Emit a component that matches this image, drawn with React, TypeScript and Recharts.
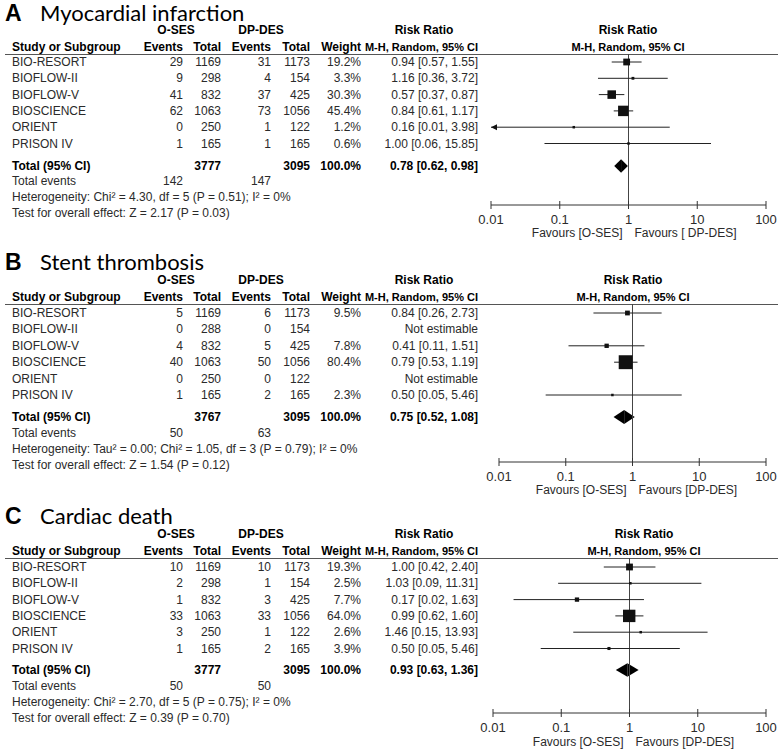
import React from 'react'
import {
  ScatterChart, Scatter, XAxis, YAxis, ReferenceLine, ReferenceArea, ReferenceDot,
} from 'recharts'

// Shared study names (same order in all three panels)
const studies = ['BIO-RESORT', 'BIOFLOW-II', 'BIOFLOW-V', 'BIOSCIENCE', 'ORIENT', 'PRISON IV']
const axisTicks = [0.01, 0.1, 1, 10, 100]

// A — myocardial infarction
const miSesEvents = [29, 9, 41, 62, 0, 1]
const miSesTotal = [1169, 298, 832, 1063, 250, 165]
const miDpEvents = [31, 4, 37, 73, 1, 1]
const miDpTotal = [1173, 154, 425, 1056, 122, 165]
const miWeight = [19.2, 3.3, 30.3, 45.4, 1.2, 0.6]
const miRR = [0.94, 1.16, 0.57, 0.84, 0.16, 1.0]
const miLo = [0.57, 0.36, 0.37, 0.61, 0.01, 0.06]
const miHi = [1.55, 3.72, 0.87, 1.17, 3.98, 15.85]
const miPooled = [0.78, 0.62, 0.98]
const miTotals = [3777, 3095]
const miTotalEvents = [142, 147]

// B — stent thrombosis (null = not estimable)
const stSesEvents = [5, 0, 4, 40, 0, 1]
const stSesTotal = [1169, 288, 832, 1063, 250, 165]
const stDpEvents = [6, 0, 5, 50, 0, 2]
const stDpTotal = [1173, 154, 425, 1056, 122, 165]
const stWeight = [9.5, null, 7.8, 80.4, null, 2.3]
const stRR = [0.84, null, 0.41, 0.79, null, 0.5]
const stLo = [0.26, null, 0.11, 0.53, null, 0.05]
const stHi = [2.73, null, 1.51, 1.19, null, 5.46]
const stPooled = [0.75, 0.52, 1.08]
const stTotals = [3767, 3095]
const stTotalEvents = [50, 63]

// C — cardiac death
const cdSesEvents = [10, 2, 1, 33, 3, 1]
const cdSesTotal = [1169, 298, 832, 1063, 250, 165]
const cdDpEvents = [10, 1, 3, 33, 1, 2]
const cdDpTotal = [1173, 154, 425, 1056, 122, 165]
const cdWeight = [19.3, 2.5, 7.7, 64.0, 2.6, 3.9]
const cdRR = [1.0, 1.03, 0.17, 0.99, 1.46, 0.5]
const cdLo = [0.42, 0.09, 0.02, 0.62, 0.15, 0.05]
const cdHi = [2.4, 11.31, 1.63, 1.6, 13.93, 5.46]
const cdPooled = [0.93, 0.63, 1.36]
const cdTotals = [3777, 3095]
const cdTotalEvents = [50, 50]

const FONT = 'Arial, "Liberation Sans", Helvetica, sans-serif'
const INK = '#2a2a2a'

function T({ x, y, a = 'left', b = false, size = 12, color = INK, font = FONT, lh, children }: {
  x: number; y: number; a?: 'left' | 'right' | 'center'; b?: boolean; size?: number
  color?: string; font?: string; lh?: number; children: React.ReactNode
}) {
  const w = 420
  const left = a === 'left' ? x : a === 'right' ? x - w : x - w / 2
  const h = lh ?? 14
  return (
    <div style={{
      position: 'absolute', left, top: y - h / 2, width: w, height: h, lineHeight: `${h}px`,
      fontSize: size, fontWeight: b ? 700 : 400, textAlign: a, color, whiteSpace: 'nowrap', fontFamily: font,
    }}>{children}</div>
  )
}

const fmtCI = (rr: number, lo: number, hi: number) => `${rr.toFixed(2)} [${lo.toFixed(2)}, ${hi.toFixed(2)}]`

// column right edges
const C = { study: 12, sesEv: 183, sesTot: 221, dpEv: 271, dpTot: 310, weight: 361, ci: 478 }

interface Layout {
  title: number; hdr1: number; hdr2: number; line: number; row0: number; step: number
  total: number; foot: number[]; axis: number; plotL: number; plotR: number; fav: number; rrHead: number
}

function Forest({ rr, lo, hi, weight, pooled, L }: {
  rr: (number | null)[]; lo: (number | null)[]; hi: (number | null)[]; weight: (number | null)[]
  pooled: number[]; L: Layout
}) {
  const padL = 18
  const padR = 778 - L.plotR
  const width = L.plotR - L.plotL + padL + padR
  const plotH = L.axis - L.line
  const d0 = -(L.row0 - L.line) / L.step
  const d1 = d0 + plotH / L.step
  const totalIdx = (L.total - L.row0) / L.step
  const pts = rr.map((v, i) => ({ x: v, y: i, w: weight[i] })).filter(p => p.x != null)
  const halfH = 0.42

  const square = (p: any) => {
    const s = Math.max(2.5, 1.55 * Math.sqrt(p.payload.w))
    return <rect x={p.cx - s / 2} y={p.cy - s / 2} width={s} height={s} fill="#111" />
  }
  const leftHalf = (p: any) => (
    <polygon points={`${p.x},${p.y + p.height / 2} ${p.x + p.width},${p.y} ${p.x + p.width},${p.y + p.height}`} fill="#000" />
  )
  const rightHalf = (p: any) => (
    <polygon points={`${p.x},${p.y} ${p.x + p.width},${p.y + p.height / 2} ${p.x},${p.y + p.height}`} fill="#000" />
  )
  const arrow = (p: any) => (
    <polygon points={`${p.cx},${p.cy} ${p.cx + 6},${p.cy - 3} ${p.cx + 6},${p.cy + 3}`} fill="#111" />
  )
  const tick = (p: any) => (
    <g>
      <line x1={p.x} x2={p.x} y1={p.y - 4} y2={p.y + 4} stroke="#333" />
      <text x={p.x} y={p.y + 19} textAnchor="middle" fontSize={13} fontFamily={FONT} fill={INK}>
        {p.payload.value}
      </text>
    </g>
  )

  return (
    <div style={{ position: 'absolute', left: L.plotL - padL, top: L.line }}>
      <ScatterChart width={width} height={plotH + 30} margin={{ top: 0, right: padR, bottom: 0, left: padL }}
        style={{ overflow: 'visible' }}>
        <XAxis
          dataKey="x" type="number" scale="log" domain={[0.01, 100]} allowDataOverflow
          ticks={axisTicks} tick={tick} tickLine={false} tickSize={0} tickMargin={0}
          axisLine={{ stroke: '#333' }} height={30} interval={0}
        />
        <YAxis dataKey="y" type="number" domain={[d0, d1]} allowDataOverflow reversed hide />
        <ReferenceLine x={1} stroke="#444" strokeWidth={1} />
        {rr.map((v, i) => v == null ? null : (
          <ReferenceLine
            key={`ci${i}`}
            segment={[{ x: lo[i] as number, y: i }, { x: hi[i] as number, y: i }]}
            stroke="#222" strokeWidth={1} ifOverflow="visible"
          />
        ))}
        {rr.map((v, i) => v != null && (lo[i] as number) <= 0.01 ? (
          <ReferenceDot key={`ar${i}`} x={0.01} y={i} r={0} shape={arrow} ifOverflow="visible" />
        ) : null)}
        <ReferenceArea x1={pooled[1]} x2={pooled[0]} y1={totalIdx - halfH} y2={totalIdx + halfH} shape={leftHalf} ifOverflow="visible" />
        <ReferenceArea x1={pooled[0]} x2={pooled[2]} y1={totalIdx - halfH} y2={totalIdx + halfH} shape={rightHalf} ifOverflow="visible" />
        <Scatter data={pts} shape={square} isAnimationActive={false} />
      </ScatterChart>
    </div>
  )
}

function Panel({ letter, title, L, sesEv, sesTot, dpEv, dpTot, weight, rr, lo, hi, pooled, totals, totalEvents, het, test, favR }: {
  letter: string; title: string; L: Layout
  sesEv: number[]; sesTot: number[]; dpEv: number[]; dpTot: number[]
  weight: (number | null)[]; rr: (number | null)[]; lo: (number | null)[]; hi: (number | null)[]
  pooled: number[]; totals: number[]; totalEvents: number[]; het: string; test: string; favR: string
}) {
  const one = L.plotL + (L.plotR - L.plotL) / 2
  return (
    <>
      <T x={5} y={L.title} b size={23} lh={18} color="#000">{letter}</T>
      <T x={40} y={L.title} size={22} lh={18} color="#000" font="Lato, 'Open Sans', sans-serif">{title}</T>

      <T x={176} y={L.hdr1} a="center" b color="#000">O-SES</T>
      <T x={261} y={L.hdr1} a="center" b color="#000">DP-DES</T>
      <T x={424} y={L.hdr1} a="center" b color="#000">Risk Ratio</T>
      <T x={L.rrHead} y={L.hdr1} a="center" b color="#000">Risk Ratio</T>

      <T x={C.study} y={L.hdr2} b color="#000">Study or Subgroup</T>
      <T x={C.sesEv} y={L.hdr2} a="right" b color="#000">Events</T>
      <T x={C.sesTot} y={L.hdr2} a="right" b color="#000">Total</T>
      <T x={C.dpEv} y={L.hdr2} a="right" b color="#000">Events</T>
      <T x={C.dpTot} y={L.hdr2} a="right" b color="#000">Total</T>
      <T x={C.weight} y={L.hdr2} a="right" b color="#000">Weight</T>
      <T x={C.ci} y={L.hdr2} a="right" b size={11} color="#000">M-H, Random, 95% CI</T>
      <T x={L.rrHead} y={L.hdr2} a="center" b size={11} color="#000">M-H, Random, 95% CI</T>
      <div style={{ position: 'absolute', left: 5, top: L.line, width: 773, height: 1, background: '#555' }} />

      {studies.map((s, i) => {
        const y = L.row0 + i * L.step
        const r = rr[i]
        return (
          <React.Fragment key={s}>
            <T x={C.study} y={y}>{s}</T>
            <T x={C.sesEv} y={y} a="right">{sesEv[i]}</T>
            <T x={C.sesTot} y={y} a="right">{sesTot[i]}</T>
            <T x={C.dpEv} y={y} a="right">{dpEv[i]}</T>
            <T x={C.dpTot} y={y} a="right">{dpTot[i]}</T>
            <T x={C.weight} y={y} a="right">{weight[i] == null ? '' : `${(weight[i] as number).toFixed(1)}%`}</T>
            <T x={C.ci} y={y} a="right">{r == null ? 'Not estimable' : fmtCI(r, lo[i] as number, hi[i] as number)}</T>
          </React.Fragment>
        )
      })}

      <T x={C.study} y={L.total} b color="#000">Total (95% CI)</T>
      <T x={C.sesTot} y={L.total} a="right" b color="#000">{totals[0]}</T>
      <T x={C.dpTot} y={L.total} a="right" b color="#000">{totals[1]}</T>
      <T x={C.weight} y={L.total} a="right" b color="#000">100.0%</T>
      <T x={C.ci} y={L.total} a="right" b color="#000">{fmtCI(pooled[0], pooled[1], pooled[2])}</T>

      <T x={C.study} y={L.foot[0]}>Total events</T>
      <T x={C.sesEv} y={L.foot[0]} a="right">{totalEvents[0]}</T>
      <T x={C.dpEv} y={L.foot[0]} a="right">{totalEvents[1]}</T>
      <T x={C.study} y={L.foot[1]}>{het}</T>
      <T x={C.study} y={L.foot[2]}>{test}</T>

      <Forest rr={rr} lo={lo} hi={hi} weight={weight} pooled={pooled} L={L} />
      <T x={one - 6} y={L.fav} a="right">Favours [O-SES]</T>
      <T x={one + 6} y={L.fav}>{favR}</T>
    </>
  )
}

const LA: Layout = { title: 13, hdr1: 30, hdr2: 47, line: 54, row0: 62, step: 16.3, total: 166, foot: [181, 197, 213], axis: 205, plotL: 491, plotR: 766, fav: 233, rrHead: 628 }
const LB: Layout = { title: 262, hdr1: 280, hdr2: 297, line: 304, row0: 313, step: 16.4, total: 417, foot: [433, 449, 465], axis: 462, plotL: 499, plotR: 766, fav: 490, rrHead: 633 }
const LC: Layout = { title: 516, hdr1: 534, hdr2: 551, line: 558, row0: 567, step: 16.3, total: 670, foot: [686, 702, 718], axis: 713, plotL: 493, plotR: 766, fav: 742, rrHead: 644 }

export default function App() {
  return (
    <div style={{ position: 'absolute', left: 0, top: 0, width: 778, height: 755, background: '#fff', overflow: 'hidden' }}>
      <Panel letter="A" title="Myocardial infarction" L={LA}
        sesEv={miSesEvents} sesTot={miSesTotal} dpEv={miDpEvents} dpTot={miDpTotal}
        weight={miWeight} rr={miRR} lo={miLo} hi={miHi} pooled={miPooled} totals={miTotals} totalEvents={miTotalEvents}
        het="Heterogeneity: Chi² = 4.30, df = 5 (P = 0.51); I² = 0%"
        test="Test for overall effect: Z = 2.17 (P = 0.03)" favR="Favours [ DP-DES]" />
      <Panel letter="B" title="Stent thrombosis" L={LB}
        sesEv={stSesEvents} sesTot={stSesTotal} dpEv={stDpEvents} dpTot={stDpTotal}
        weight={stWeight} rr={stRR} lo={stLo} hi={stHi} pooled={stPooled} totals={stTotals} totalEvents={stTotalEvents}
        het="Heterogeneity: Tau² = 0.00; Chi² = 1.05, df = 3 (P = 0.79); I² = 0%"
        test="Test for overall effect: Z = 1.54 (P = 0.12)" favR="Favours [DP-DES]" />
      <Panel letter="C" title="Cardiac death" L={LC}
        sesEv={cdSesEvents} sesTot={cdSesTotal} dpEv={cdDpEvents} dpTot={cdDpTotal}
        weight={cdWeight} rr={cdRR} lo={cdLo} hi={cdHi} pooled={cdPooled} totals={cdTotals} totalEvents={cdTotalEvents}
        het="Heterogeneity: Chi² = 2.70, df = 5 (P = 0.75); I² = 0%"
        test="Test for overall effect: Z = 0.39 (P = 0.70)" favR="Favours [DP-DES]" />
    </div>
  )
}
